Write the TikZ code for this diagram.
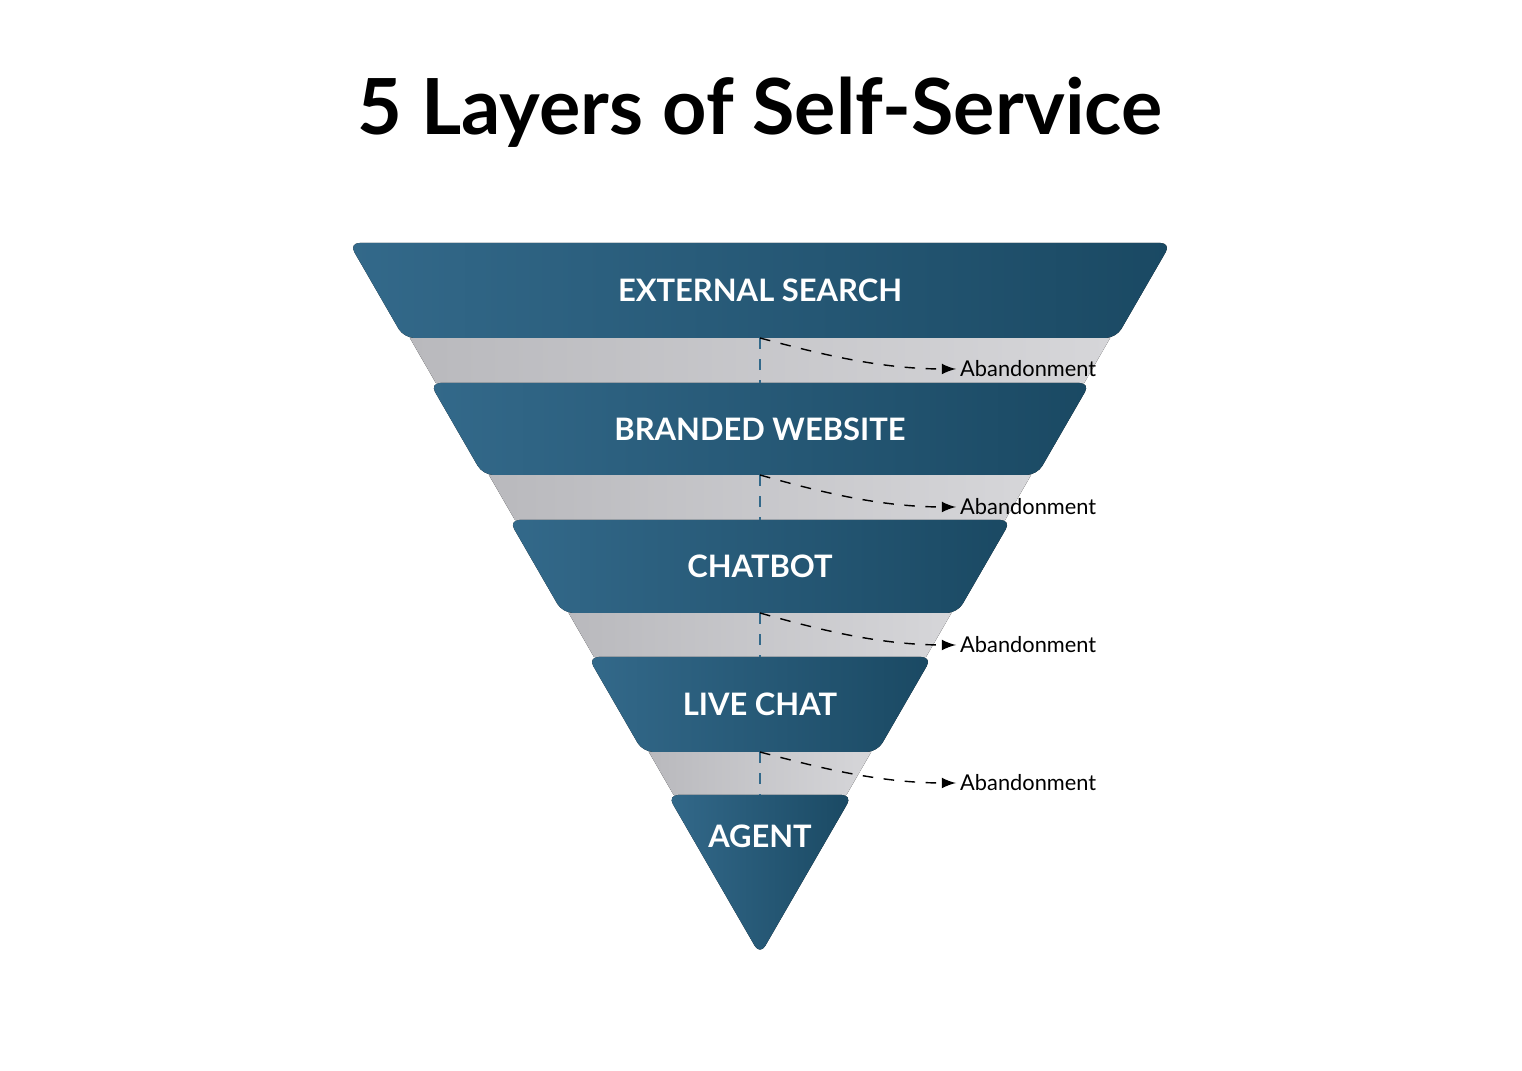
\documentclass[tikz,border=0pt]{standalone}
\usepackage{fontspec}
\setmainfont{Lato}
\usetikzlibrary{arrows}
\definecolor{bandA}{HTML}{33698A}
\definecolor{bandB}{HTML}{1A4963}
\definecolor{gapA}{HTML}{B9B9BD}
\definecolor{gapB}{HTML}{D6D6D9}
\newcommand\apx{760}

\begin{document}
\begin{tikzpicture}[x=0.01cm,y=-0.01cm,>=latex]

  \tikzstyle{layer}=[left color=bandA,right color=bandB,rounded corners=3pt]
  \tikzstyle{gap}=[left color=gapA,right color=gapB]
  \tikzstyle{label}=[text=white,font=\bfseries\fontsize{8.8}{10}\selectfont]
  \tikzstyle{drop}=[font=\fontsize{6.2}{7}\selectfont,anchor=west,inner sep=1pt]

  \useasboundingbox (0,0) rectangle (1522,1071);

  \node[font=\bfseries\fontsize{22}{26}\selectfont] (title) at (\apx,112) {5 Layers of Self-Service};

  % gray gaps between layers
  \foreach \t/\b/\i in {338/383/1,475/520/2,613/657/3,752/795/4}{
    \pgfmathsetmacro\hwt{0.5772*(955-\t)-6}
    \pgfmathsetmacro\hwb{0.5772*(955-\b)-6}
    \fill[gap] ({\apx-\hwt},\t) -- ({\apx+\hwt},\t) -- ({\apx+\hwb},\b) -- ({\apx-\hwb},\b) -- cycle;
    \coordinate (g\i) at (\apx,\t);
    \coordinate (h\i) at (\apx,\b);
  }

  % the layers
  \foreach \t/\b/\txt/\i in {243/338/EXTERNAL SEARCH/1,383/475/BRANDED WEBSITE/2,
                             520/613/CHATBOT/3,657/752/LIVE CHAT/4}{
    \pgfmathsetmacro\hwt{0.5772*(955-\t)}
    \pgfmathsetmacro\hwb{0.5772*(955-\b)}
    \fill[layer] ({\apx-\hwt},\t) -- ({\apx+\hwt},\t) -- ({\apx+\hwb},\b) -- ({\apx-\hwb},\b) -- cycle;
    \node[label] (l\i) at (\apx,{(\t+\b)/2}) {\txt};
  }
  \fill[layer] ({\apx-92.4},795) -- ({\apx+92.4},795) -- (\apx,955) -- cycle;
  \node[label] (l5) at (\apx,836) {AGENT};

  % abandonment arrows
  \foreach \y/\i in {369/1,507/2,645/3,783/4}{
    \node[drop] (a\i) at (956,\y) {Abandonment};
    \draw[dashed,bandA,thin] (g\i) -- (h\i);
    \draw[dashed,->,thin] (g\i) .. controls (\apx+60,\y-15) and (\apx+120,\y) .. (a\i.west);
  }

\end{tikzpicture}
\end{document}
